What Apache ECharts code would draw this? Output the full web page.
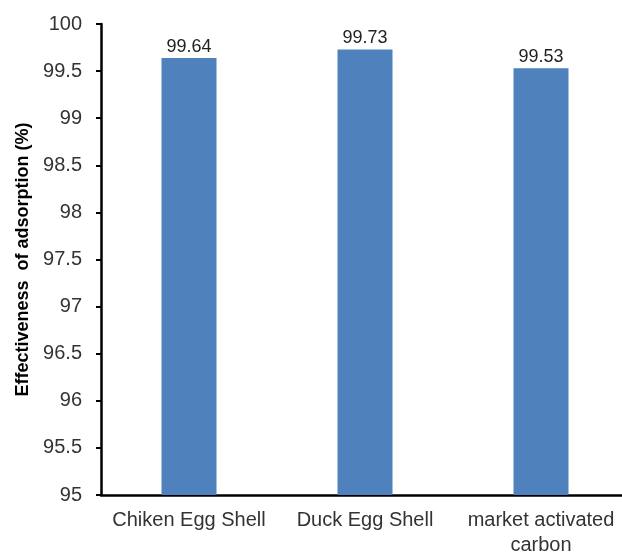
<!DOCTYPE html>
<html>
<head>
<meta charset="utf-8">
<script src="https://cdn.jsdelivr.net/npm/echarts@6/dist/echarts.min.js"></script>
<style>
  html, body { margin: 0; padding: 0; background: #fff; }
  #chart { width: 622px; height: 554px; }
</style>
</head>
<body>
<div id="chart"></div>
<script>
// Adsorption effectiveness of each adsorbent
const categories = ['Chiken Egg Shell', 'Duck Egg Shell', 'market activated\ncarbon'];
const effectiveness = [99.64, 99.73, 99.53];
const yMin = 95;
const yMax = 100;
const yStep = 0.5;

const FONT = 'Liberation Sans, Arial, sans-serif';

const chart = echarts.init(document.getElementById('chart'));
chart.setOption({
  animation: false,
  backgroundColor: '#ffffff',
  grid: { left: 101, right: -7, top: 24, bottom: 59, outerBoundsMode: 'none', containLabel: false },
  xAxis: {
    type: 'category',
    data: categories,
    axisLine: { lineStyle: { color: '#000', width: 2.5 } },
    axisTick: { alignWithLabel: true, length: 5, lineStyle: { color: '#000', width: 2 } },
    axisLabel: {
      color: '#333', fontFamily: FONT, fontSize: 20,
      margin: 13, lineHeight: 25, interval: 0
    }
  },
  yAxis: {
    type: 'value',
    min: yMin, max: yMax, interval: yStep,
    name: 'Effectiveness  of adsorption (%)',
    nameLocation: 'middle',
    nameGap: 67,
    nameTextStyle: { color: '#000', fontWeight: 'bold', fontSize: 18, fontFamily: FONT },
    axisLine: { show: true, lineStyle: { color: '#000', width: 2.5 } },
    axisTick: { show: true, length: 5, lineStyle: { color: '#000', width: 2 } },
    splitLine: { show: false },
    axisLabel: {
      color: '#333', fontFamily: FONT, fontSize: 20, margin: 19,
      formatter: v => String(Math.round(v * 10) / 10)
    }
  },
  series: [{
    type: 'bar',
    data: effectiveness,
    barWidth: 55,
    itemStyle: { color: '#4F81BD' },
    label: {
      show: true, position: 'top', distance: 2,
      color: '#222', fontSize: 18, fontFamily: FONT,
      formatter: p => p.value.toFixed(2)
    }
  }]
});
</script>
</body>
</html>
